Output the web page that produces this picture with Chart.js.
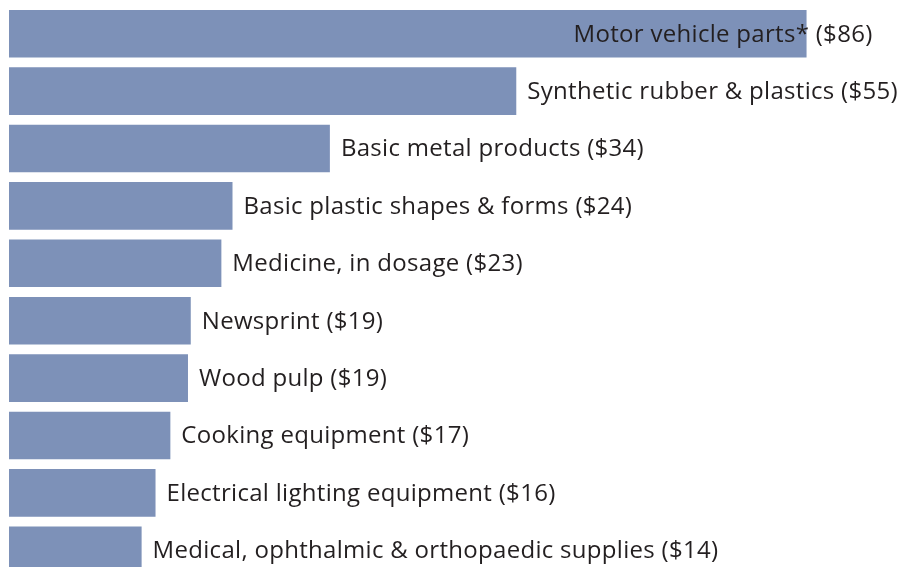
<!DOCTYPE html>
<html>
<head>
<meta charset="utf-8">
<script src="https://cdn.jsdelivr.net/npm/chart.js@4"></script>
<style>
  html, body { margin: 0; padding: 0; background: #fff; overflow: hidden; }
  #wrap { position: relative; width: 903px; height: 579px; }
</style>
</head>
<body>
<div id="wrap"><canvas id="c"></canvas></div>
<script>
const categories = [
  "Motor vehicle parts*",
  "Synthetic rubber & plastics",
  "Basic metal products",
  "Basic plastic shapes & forms",
  "Medicine, in dosage",
  "Newsprint",
  "Wood pulp",
  "Cooking equipment",
  "Electrical lighting equipment",
  "Medical, ophthalmic & orthopaedic supplies"
];
const values = [86, 54.7, 34.6, 24.1, 22.9, 19.6, 19.3, 17.4, 15.8, 14.3];
const labelValues = ["$86", "$55", "$34", "$24", "$23", "$19", "$19", "$17", "$16", "$14"];

const BAR_COLOR = "#7d91b8";
const FONT = "24px 'Open Sans', Lato, sans-serif";

const labelPlugin = {
  id: "barLabels",
  afterDatasetsDraw(chart) {
    const ctx = chart.ctx;
    const meta = chart.getDatasetMeta(0);
    ctx.save();
    ctx.font = FONT;
    try { ctx.letterSpacing = "0.3px"; } catch (e) {}
    ctx.fillStyle = "#231f20";
    ctx.textBaseline = "middle";
    meta.data.forEach((bar, i) => {
      const text = categories[i] + " (" + labelValues[i] + ")";
      const w = ctx.measureText(text).width;
      let x = bar.x + 11;
      if (x + w > chart.width - 1) {
        ctx.textAlign = "right";
        x = bar.x + 66;
      } else {
        ctx.textAlign = "left";
      }
      ctx.fillText(text, x, bar.y + 1);
    });
    ctx.restore();
  }
};

new Chart(document.getElementById("c"), {
  type: "bar",
  data: {
    labels: categories,
    datasets: [{
      data: values,
      backgroundColor: BAR_COLOR,
      borderWidth: 0,
      barPercentage: 0.83,
      categoryPercentage: 1.0
    }]
  },
  options: {
    indexAxis: "y",
    responsive: true,
    maintainAspectRatio: false,
    animation: false,
    layout: { padding: { left: 9, top: 5, right: 0, bottom: 0 } },
    plugins: { legend: { display: false }, tooltip: { enabled: false } },
    scales: {
      x: { display: false, min: 0, max: 96.4 },
      y: { display: false }
    }
  },
  plugins: [labelPlugin]
});
</script>
</body>
</html>
